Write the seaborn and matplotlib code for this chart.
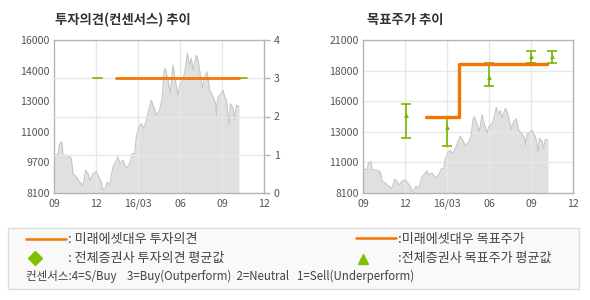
import numpy as np
import pandas as pd
import seaborn as sns
import matplotlib
matplotlib.use("Agg")
import matplotlib.pyplot as plt
from matplotlib.patches import Rectangle
from matplotlib.lines import Line2D

sns.set_style("white")
plt.rcParams['font.family'] = ['Noto Sans CJK KR', 'DejaVu Sans']

# ---------------- data ----------------
price_month = [0.00, 0.29, 0.40, 0.57, 0.64, 0.88, 1.12, 1.24, 1.36, 1.60, 1.83, 2.07, 2.26, 2.43,
               2.55, 2.79, 3.02, 3.26, 3.38, 3.50, 3.69, 3.79, 3.98, 4.21, 4.33, 4.57, 4.69, 4.93,
               5.17, 5.40, 5.60, 5.76, 5.88, 6.07, 6.24, 6.40, 6.60, 6.79, 6.95, 7.12, 7.31, 7.55,
               7.74, 7.86, 7.95, 8.14, 8.31, 8.50, 8.62, 8.86, 8.98, 9.21, 9.36, 9.52, 9.69, 9.81,
               9.93, 10.17, 10.29, 10.40, 10.60, 10.76, 10.93, 11.12, 11.36, 11.55, 11.60, 11.71,
               11.88, 12.07, 12.19, 12.31, 12.43, 12.50, 12.60, 12.79, 12.90, 13.02, 13.21]
price_value = [10100, 10080, 10650, 10750, 10050, 10050, 9960, 9870, 9100, 8930, 8670, 8500, 9270, 9100,
               8750, 9100, 9190, 8840, 8670, 8240, 8400, 8670, 8500, 9450, 9620, 9960, 9620, 9790,
               9360, 9620, 10140, 10140, 11000, 11520, 11690, 11430, 11860, 12460, 12900, 12550, 12120, 12380,
               13070, 14360, 14530, 13930, 13240, 14710, 14100, 13150, 13670, 13930, 14450, 15310, 14710, 15050,
               14450, 15220, 14970, 14450, 13500, 14100, 14360, 13410, 13070, 12720, 12120, 13070,
               13150, 13410, 13070, 12900, 12120, 11600, 12720, 12460, 11860, 12640, 12550]

opinion_month = [4.45, 13.19]
opinion_value = [3, 3]
consensus_month = [3.1, 13.5]
consensus_value = [3, 3]

target_month = [4.5, 6.83, 13.17]
target_value = [14500, 19000, 19000]

avg_month = [3.07, 6.0, 9.0, 12.0, 13.5]
avg_mean = [14655, 13680, 17870, 19640, 19640]
avg_low = [12775, 12100, 17090, 19085, 19085]
avg_high = [15640, 14520, 19050, 20060, 20060]

x_ticks = [0, 3, 6, 9, 12, 15]
x_labels = ['09', '12', '16/03', '06', '09', '12']
left_price_labels = ['8100', '9700', '11000', '13000', '14000', '16000']
right_price_labels = ['8100', '11000', '13000', '16000', '18000', '21000']
opinion_ticks = [0, 1, 2, 3, 4]

price_df = pd.DataFrame({'month': price_month, 'price': price_value})

# ---------------- style ----------------
ORANGE = '#f47500'
GREEN = '#76b600'
FILL = '#e0e0e0'
PLINE = '#c6c6c6'
GRID = '#e8e8e8'
SPINE = '#b4b4b4'
TXT = '#555555'
FS = 7.6

W, H = 590, 300
fig = plt.figure(figsize=(W / 100, H / 100), dpi=100)
fig.patch.set_facecolor('white')

def rect(x0, y0, x1, y1):
    return [x0 / W, 1 - y1 / H, (x1 - x0) / W, (y1 - y0) / H]

def style_axes(ax):
    for s in ax.spines.values():
        s.set_color(SPINE)
        s.set_linewidth(1.0)
    ax.set_xlim(0, 15)
    ax.set_xticks(x_ticks)
    ax.set_xticklabels(x_labels)
    ax.tick_params(axis='x', length=0, pad=4, labelsize=FS, labelcolor=TXT)
    for xv in x_ticks[1:-1]:
        ax.axvline(xv, color=GRID, lw=1.0, zorder=1.5)
    ax.set_xlabel('')
    ax.set_ylabel('')

def draw_price(ax):
    ax.fill_between(price_df['month'], 0, price_df['price'], color=FILL, lw=0, zorder=1)
    sns.lineplot(data=price_df, x='month', y='price', ax=ax, color=PLINE, lw=0.8, zorder=2)

# ---------------- left chart ----------------
axL = fig.add_axes(rect(54, 40, 264, 193))
draw_price(axL)
style_axes(axL)
axL.set_ylim(8100, 16000)
axL.set_yticks(np.linspace(8100, 16000, 6))
axL.set_yticklabels(left_price_labels)
axL.tick_params(axis='y', length=0, pad=3, labelsize=FS, labelcolor=TXT)

axR = axL.twinx()
axR.set_ylim(0, 4)
axR.set_yticks(opinion_ticks)
axR.set_yticklabels([str(v) for v in opinion_ticks])
axR.tick_params(axis='y', length=4, width=1, color=SPINE, pad=3, labelsize=FS, labelcolor=TXT)
for s in axR.spines.values():
    s.set_visible(False)
for yv in opinion_ticks[1:-1]:
    axR.axhline(yv, color=GRID, lw=1.0, zorder=0)
axL.set_zorder(0)
axR.patch.set_visible(False)
for cx, cy in zip(consensus_month, consensus_value):
    axR.plot([cx - 0.32, cx + 0.32], [cy, cy], color=GREEN, lw=1.2, zorder=3)
sns.lineplot(x=opinion_month, y=opinion_value, ax=axR, color=ORANGE, lw=2.0, zorder=4)
axR.set_xlim(0, 15)
axR.set_ylabel('')

# ---------------- right chart ----------------
ax2 = fig.add_axes(rect(363, 40, 573, 193))
draw_price(ax2)
style_axes(ax2)
ax2.set_ylim(8100, 21000)
ax2.set_yticks(np.linspace(8100, 21000, 6))
ax2.set_yticklabels(right_price_labels)
ax2.tick_params(axis='y', direction='in', length=5, width=1, color=SPINE, pad=3,
                labelsize=FS, labelcolor=TXT)
for yv in np.linspace(8100, 21000, 6)[1:-1]:
    ax2.axhline(yv, color=GRID, lw=1.0, zorder=1.5)

mean = np.array(avg_mean)
ax2.errorbar(avg_month, mean, yerr=[mean - np.array(avg_low), np.array(avg_high) - mean],
             fmt='none', ecolor=GREEN, elinewidth=1.2, capsize=3.4, capthick=1.2, zorder=3)
ax2.scatter(avg_month, mean, marker='^', s=12, color=GREEN, zorder=4, linewidths=0)
sns.lineplot(x=target_month, y=target_value, ax=ax2, color=ORANGE, lw=2.4,
             drawstyle='steps-post', zorder=5)
ax2.set_xlim(0, 15)
ax2.set_ylim(8100, 21000)
ax2.set_ylabel('')

# ---------------- titles ----------------
fig.text(55 / W, 1 - 20 / H, '투자의견(컨센서스) 추이', fontsize=9.6, fontweight='bold',
         color='#333333', va='center', ha='left')
fig.text(367 / W, 1 - 20 / H, '목표주가 추이', fontsize=9.6, fontweight='bold',
         color='#333333', va='center', ha='left')

# ---------------- legend box ----------------
fig.patches.append(Rectangle((8 / W, 1 - 289 / H), (579 - 8) / W, (289 - 228) / H,
                             transform=fig.transFigure, facecolor='#f9f9f9',
                             edgecolor='#dcdcdc', lw=1.0, zorder=0))
LFS = 9.4
fig.lines.append(Line2D([26 / W, 66 / W], [1 - 239 / H] * 2, transform=fig.transFigure,
                        color=ORANGE, lw=1.8))
fig.text(68 / W, 1 - 239 / H, ': 미래에셋대우 투자의견', fontsize=LFS, color='#444444',
         va='center', ha='left')
fig.lines.append(Line2D([35 / W], [1 - 258 / H], transform=fig.transFigure, marker='D',
                        markersize=7.5, color='#80c000', lw=0))
fig.text(68 / W, 1 - 258 / H, ': 전체증권사 투자의견 평균값', fontsize=LFS, color='#444444',
         va='center', ha='left')

fig.lines.append(Line2D([356 / W, 396 / W], [1 - 238 / H] * 2, transform=fig.transFigure,
                        color=ORANGE, lw=1.8))
fig.text(398 / W, 1 - 239 / H, ':미래에셋대우 목표주가', fontsize=LFS, color='#444444',
         va='center', ha='left')
fig.lines.append(Line2D([363 / W], [1 - 259 / H], transform=fig.transFigure, marker='^',
                        markersize=7.5, color='#80c000', lw=0))
fig.text(398 / W, 1 - 258 / H, ':전체증권사 목표주가 평균값', fontsize=LFS, color='#444444',
         va='center', ha='left')

fig.text(26 / W, 1 - 276 / H,
         '컨센서스:4=S/Buy    3=Buy(Outperform)  2=Neutral   1=Sell(Underperform)',
         fontsize=8.3, color='#444444', va='center', ha='left')

fig.savefig('out.png', dpi=100, facecolor='white')
